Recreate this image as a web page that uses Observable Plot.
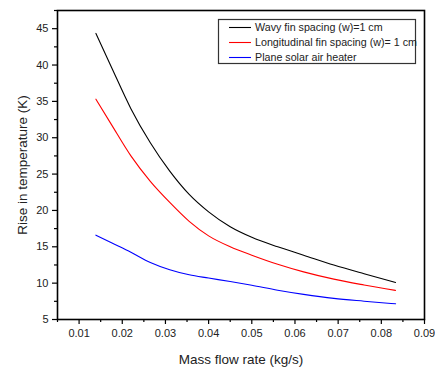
<!DOCTYPE html>
<html>
<head>
<meta charset="utf-8">
<script src="https://cdn.jsdelivr.net/npm/d3@7"></script>
<script src="https://cdn.jsdelivr.net/npm/@observablehq/plot@0.6"></script>
<style>
  html, body { margin: 0; padding: 0; background: #fff; }
  #chart { width: 435px; height: 369px; }
</style>
</head>
<body>
<div id="chart"></div>
<script>
// Mass flow rate (kg/s)
const massFlow = [0.0139, 0.0175, 0.022, 0.0265, 0.031, 0.0355, 0.04, 0.045, 0.05, 0.056, 0.062, 0.069, 0.076, 0.0833];
// Rise in temperature (K)
const wavy = [44.35, 39.7, 34.0, 29.3, 25.4, 22.2, 19.8, 17.75, 16.3, 15.0, 13.85, 12.5, 11.3, 10.1];
const longitudinal = [35.3, 31.8, 27.5, 24.0, 21.1, 18.5, 16.5, 15.0, 13.85, 12.6, 11.55, 10.55, 9.75, 9.0];
const plane = [16.6, 15.55, 14.25, 12.85, 11.85, 11.15, 10.7, 10.22, 9.7, 9.02, 8.45, 7.9, 7.52, 7.16];

const seriesNames = ["Wavy fin spacing (w)=1 cm", "Longitudinal fin spacing (w)= 1 cm", "Plane solar air heater"];
const seriesColors = ["#000000", "#ff0000", "#0000ff"];
const seriesValues = [wavy, longitudinal, plane];

const xTicks = [0.01, 0.02, 0.03, 0.04, 0.05, 0.06, 0.07, 0.08, 0.09];
const xMinor = [0.005, 0.015, 0.025, 0.035, 0.045, 0.055, 0.065, 0.075, 0.085];
const yTicks = [5, 10, 15, 20, 25, 30, 35, 40, 45];
const yMinor = [7.5, 12.5, 17.5, 22.5, 27.5, 32.5, 37.5, 42.5, 47.5];

const rows = [];
seriesValues.forEach((vals, si) => {
  vals.forEach((v, i) => rows.push({series: seriesNames[si], x: massFlow[i], y: v}));
});

const font = "'Liberation Sans', Arial, sans-serif";

const plot = Plot.plot({
  width: 435,
  height: 369,
  marginLeft: 57,
  marginRight: 11,
  marginTop: 10,
  marginBottom: 50,
  style: {fontFamily: font, fontSize: "11px", color: "#222", background: "#fff"},
  x: {domain: [0.005, 0.09]},
  y: {domain: [5, 47.5]},
  color: {domain: seriesNames, range: seriesColors},
  marks: [
    Plot.line(rows, {x: "x", y: "y", z: "series", stroke: "series", strokeWidth: 1.1, curve: "monotone-x"}),
    Plot.axisX({ticks: xMinor, tickSize: 3, text: null, label: null, stroke: "#000", strokeWidth: 1.2}),
    Plot.axisX({ticks: xTicks, tickSize: 5, tickPadding: 5, tickFormat: d => d.toFixed(2), stroke: "#000", strokeWidth: 1.2,
      label: "Mass flow rate (kg/s)", labelAnchor: "center", labelArrow: "none", labelOffset: 44, fontSize: 11}),
    Plot.axisY({ticks: yMinor, tickSize: 3, text: null, label: null, stroke: "#000", strokeWidth: 1.2}),
    Plot.axisY({ticks: yTicks, tickSize: 5, tickPadding: 4, stroke: "#000", strokeWidth: 1.2,
      label: "Rise in temperature (K)", labelAnchor: "center", labelArrow: "none", labelOffset: 40, fontSize: 11}),
    Plot.frame({stroke: "#000", strokeWidth: 1.6})
  ]
});

document.getElementById("chart").appendChild(plot);

// enlarge axis titles
const svg = d3.select(plot);
svg.selectAll("g[aria-label='x-axis label'] text, g[aria-label='y-axis label'] text")
  .style("font-size", "13.5px");

// Legend inside the plot area (top right)
const lg = svg.append("g").attr("font-family", font).attr("font-size", "10.7px")
  .attr("fill", "#222").attr("text-anchor", "start");
lg.append("rect").attr("x", 218.5).attr("y", 19.5).attr("width", 197).attr("height", 44)
  .attr("fill", "#fff").attr("stroke", "#333").attr("stroke-width", 1.2);
seriesNames.forEach((name, i) => {
  const cy = 27.5 + i * 15;
  lg.append("line").attr("x1", 229).attr("x2", 251).attr("y1", cy).attr("y2", cy)
    .attr("stroke", seriesColors[i]).attr("stroke-width", 1.1);
  lg.append("text").attr("x", 255).attr("y", cy).attr("dy", "0.35em")
    .attr("text-anchor", "start").text(name);
});
</script>
</body>
</html>
